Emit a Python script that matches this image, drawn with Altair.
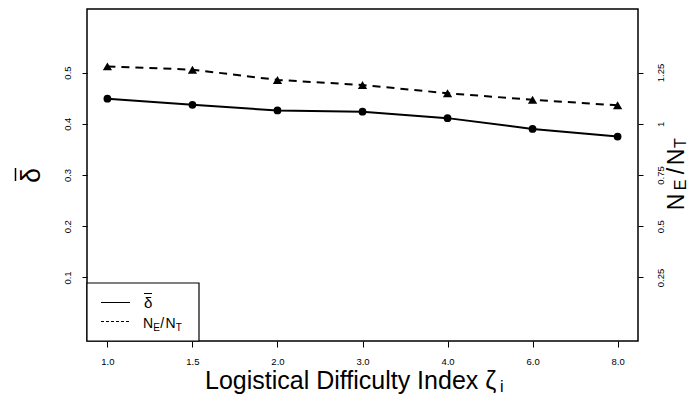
import json
import altair as alt
import pandas as pd

# ---- data ----
x_labels = ["1.0", "1.5", "2.0", "3.0", "4.0", "6.0", "8.0"]
delta_vals = [0.449, 0.437, 0.426, 0.4235, 0.411, 0.390, 0.375]
ratio_vals = [1.28, 1.264, 1.214, 1.189, 1.149, 1.117, 1.09]
left_ticks = [0.1, 0.2, 0.3, 0.4, 0.5]
right_ticks = [0.25, 0.5, 0.75, 1, 1.25]

df = pd.DataFrame({
    "idx": list(range(1, len(x_labels) + 1)),
    "label": x_labels,
    "delta": delta_vals,
    "ratio": ratio_vals,
})
dummy = pd.DataFrame({"a": [0]})

FONT = "Liberation Sans"

x_enc = alt.X(
    "idx:Q",
    scale=alt.Scale(domain=[0.76, 7.24], nice=False, zero=False),
    axis=alt.Axis(
        values=list(range(1, 8)),
        labelExpr=f"{json.dumps(x_labels)}[datum.value - 1]",
        title=None, grid=False, domain=False, tickSize=6, labelPadding=9,
        labelFontSize=9.5,
    ),
)

y_left = alt.Y(
    "delta:Q",
    scale=alt.Scale(domain=[-0.024, 0.624], nice=False, zero=False),
    axis=alt.Axis(
        orient="left", values=left_ticks, labelExpr="'' + datum.value",
        title=None, grid=False, domain=False, tickSize=5,
        labelAngle=270, labelAlign="center", labelBaseline="middle",
        labelPadding=15, labelFontSize=9.5,
    ),
)

y_right = alt.Y(
    "ratio:Q",
    scale=alt.Scale(domain=[-0.06, 1.56], nice=False, zero=False),
    axis=alt.Axis(
        orient="right", values=right_ticks, labelExpr="'' + datum.value",
        title=None, grid=False, domain=False, tickSize=5,
        labelAngle=270, labelAlign="center", labelBaseline="middle",
        labelPadding=17, labelFontSize=9.5,
    ),
)

base = alt.Chart(df)
left = alt.layer(
    base.mark_line(color="black", strokeWidth=2).encode(x=x_enc, y=y_left),
    base.mark_point(shape="circle", filled=True, size=60, color="black", opacity=1).encode(x=x_enc, y=y_left),
)
right = alt.layer(
    base.mark_line(color="black", strokeWidth=2, strokeDash=[8, 6]).encode(x=x_enc, y=y_right),
    base.mark_point(shape="triangle-up", filled=True, size=85, color="black", opacity=1).encode(x=x_enc, y=y_right),
)

ann = alt.Chart(dummy)


def txt(t, x, y, size, angle=0, align="left", baseline="alphabetic"):
    kw = dict(text=t, font=FONT, fontSize=size, color="black", align=align, baseline=baseline)
    if angle:
        kw["angle"] = angle
    return ann.mark_text(**kw).encode(x=alt.value(x), y=alt.value(y))


def rule(x, x2, y, y2, w=1.0, dash=None):
    kw = dict(color="black", strokeWidth=w)
    if dash:
        kw["strokeDash"] = dash
    return ann.mark_rule(**kw).encode(x=alt.value(x), x2=alt.value(x2), y=alt.value(y), y2=alt.value(y2))


annotations = [
    # legend box
    ann.mark_rect(fill="white", stroke="black", strokeWidth=1.2).encode(
        x=alt.value(0), x2=alt.value(112), y=alt.value(274), y2=alt.value(332)),
    rule(14, 43, 293.5, 293.5, 1.0),
    rule(14, 43, 312.5, 312.5, 1.0, [3, 2]),
    txt("δ", 57, 299, 15),
    rule(57, 65, 284.5, 284.5, 1.0),
    txt("N", 56, 319, 14),
    txt("E", 66.3, 322, 10),
    txt("/", 73.3, 319, 14),
    txt("N", 78.5, 319, 14),
    txt("T", 88.8, 322, 10),
    # x title
    txt("Logistical Difficulty Index ζ", 118, 380, 25),
    txt("i", 413, 383, 16),
    # left title (delta bar)
    txt("δ", -47, 166.5, 27, angle=270, align="center"),
    rule(-71.5, -71.5, 159, 172, 1.5),
    # right title N_E / N_T
    txt("N", 597, 193, 23, angle=270, align="center"),
    txt("E", 599, 176, 16, angle=270, align="center"),
    txt("/", 597, 162, 23, angle=270, align="center"),
    txt("N", 597, 148, 23, angle=270, align="center"),
    txt("T", 599, 134, 16, angle=270, align="center"),
]

chart = alt.layer(left, right, *annotations).resolve_scale(y="independent").properties(
    width=551,
    height=332,
    autosize=alt.AutoSizeParams(type="none"),
    padding={"left": 79, "top": 1, "right": 50, "bottom": 53},
).configure_view(
    stroke="black", strokeWidth=1.5
).configure_axis(
    labelFont=FONT, labelColor="black", tickColor="black", tickWidth=1
)

chart.save("out.html", embed_options={"renderer": "svg", "actions": False})
